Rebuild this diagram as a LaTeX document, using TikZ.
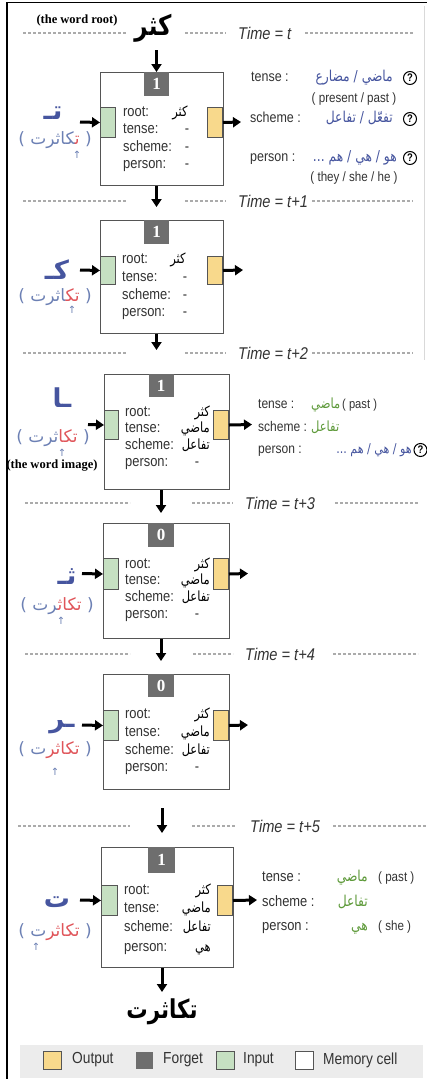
\documentclass[tikz,border=0pt]{standalone}
\usepackage{fontspec}
\usetikzlibrary{arrows.meta}
\setmainfont[FakeStretch=0.86]{Liberation Sans}
\newfontfamily\arabicfont[Script=Arabic]{DejaVu Sans}
\newfontfamily\arabicn[Script=Arabic, FakeStretch=0.82]{DejaVu Sans}
\newfontfamily\wordfont{Liberation Serif}
\newfontfamily\symfont{DejaVu Sans}
\TeXXeTstate=1
\definecolor{arblue}{HTML}{46559F}
\definecolor{lightblue}{HTML}{6C80B4}
\definecolor{arred}{HTML}{E0555A}
\definecolor{argreen}{HTML}{5E9A3A}
\definecolor{ingate}{HTML}{C6E0C2}
\definecolor{outgate}{HTML}{F8D98C}
\definecolor{fgate}{HTML}{6E6E6E}
\definecolor{txt}{HTML}{333333}
\definecolor{legbg}{HTML}{ECECEC}
\definecolor{dashc}{HTML}{ABABAB}
\definecolor{boxc}{HTML}{555555}
\def\zj{^^^^200d}
\newcommand\segB[1]{\textcolor{lightblue}{#1}}
\newcommand\segR[1]{\textcolor{arred}{#1}}
\newcommand\lp{{\symfont(}}
\newcommand\rp{{\symfont)}}
\tikzset{
  cellbox/.style={draw=boxc, line width=1.3pt, fill=white, anchor=north west, inner sep=0pt},
  ingatest/.style={draw=boxc, line width=1pt, fill=ingate, anchor=north west, inner sep=0pt, minimum width=15pt, minimum height=30pt},
  outgatest/.style={draw=boxc, line width=1pt, fill=outgate, anchor=north east, inner sep=0pt, minimum width=15pt, minimum height=30pt},
  fgatest/.style={fill=fgate, text=white, anchor=north, inner sep=0pt, minimum width=25pt, minimum height=24pt, font=\wordfont\bfseries\fontsize{17}{17}\selectfont},
  lbl/.style={anchor=west, inner sep=0pt, text height=10.5pt, text depth=3pt, font=\fontsize{15}{15}\selectfont, text=txt},
  val/.style={anchor=east, inner sep=0pt, text height=10.5pt, text depth=3pt, font=\arabicn\fontsize{14}{14}\selectfont, text=black},
  dashval/.style={inner sep=0pt, text height=10.5pt, text depth=3pt, font=\fontsize{15}{15}\selectfont, text=txt},
  rlbl/.style={anchor=west, inner sep=0pt, text height=10.5pt, text depth=3pt, font=\fontsize{14.5}{14.5}\selectfont, text=txt},
  rarab/.style={anchor=east, inner sep=0pt, text height=10.5pt, text depth=3pt, font=\arabicn\fontsize{15}{15}\selectfont, text=arblue},
  garab/.style={anchor=east, inner sep=0pt, text height=10.5pt, text depth=3pt, font=\arabicn\fontsize{15}{15}\selectfont, text=argreen},
  smalltxt/.style={inner sep=0pt, font=\fontsize{13.5}{13.5}\selectfont, text=txt},
  qmark/.style={circle, draw=black, line width=1pt, inner sep=0pt, minimum size=13pt, font=\bfseries\fontsize{11}{11}\selectfont},
  flow/.style={line width=3pt, -{Triangle[length=8pt,width=10pt]}},
  tline/.style={dashc, line width=1.2pt, dash pattern=on 3pt off 2pt},
  timelbl/.style={anchor=west, inner sep=0pt, font=\itshape\fontsize{17}{17}\selectfont, text=txt},
  bigl/.style={inner sep=0pt, font=\arabicfont\bfseries\fontsize{26}{26}\selectfont, text=arblue},
  wordl/.style={inner sep=0pt, font=\arabicfont\fontsize{17}{17}\selectfont, text=lightblue},
  uparr/.style={inner sep=0pt, font=\symfont\fontsize{10}{10}\selectfont, text=lightblue},
  note/.style={inner sep=0pt, font=\wordfont\bfseries\fontsize{12.5}{12.5}\selectfont, text=black},
  legsq/.style={inner sep=0pt, minimum size=18pt, draw=boxc, line width=1pt},
  legtxt/.style={anchor=west, inner sep=0pt, font=\fontsize{16}{16}\selectfont, text=txt},
  midlbl/.style={anchor=west, inner sep=0pt, text height=10.5pt, text depth=3pt, font=\fontsize{14}{14}\selectfont, text=txt},
}
\begin{document}
\begin{tikzpicture}[x=1pt,y=-1pt]
\useasboundingbox (0,0) rectangle (427,1079);
\fill[white] (0,0) rectangle (427,1079);
% frame
\draw[black, line width=1.3pt] (7,1079) -- (7,2.5) -- (427,2.5);
\draw[black!15, line width=1pt] (424.5,6) -- (424.5,360);

% ---------------- top: word root
\node (root) [note] at (77,20) {(the word root)};
\node (kthr) [inner sep=0pt, font=\arabicn\bfseries\fontsize{28}{28}\selectfont] at (153,28) {\beginR كثر\endR};
\draw[tline] (23,33) -- (127,33);
\draw[tline] (185,33) -- (226,33);
\node (tm0) [timelbl] at (238,33) {Time = t};
\draw[tline] (305,33) -- (413,33);

% ---------------- cell 1
\node (c1) [cellbox, minimum width=123pt, minimum height=113pt] at (100,72) {};
\node (c1f) [fgatest] at (156.5,72) {1};
\node (c1i) [ingatest] at (100,107) {};
\node (c1o) [outgatest] at (223,107) {};
\coordinate (d0) at (156.5,50);
\draw[flow] (d0) -- (d0 |- c1.north);
\node (c1r) [lbl] at (123,113) {root:};
\node (c1t) [lbl] at (123,130) {tense:};
\node (c1s) [lbl] at (123,148) {scheme:};
\node (c1p) [lbl] at (123,165) {person:};
\node (c1rv) [val, anchor=center] at (180,113) {\beginR كثر\endR};
\node (c1tv) [dashval] at (187,130) {-};
\node (c1sv) [dashval] at (187,148) {-};
\node (c1pv) [dashval] at (187,165) {-};
\node (l1) [bigl] at (53,113) {\beginR تـ\endR};
\node (w1) [wordl] at (55,140) {\lp\ \segB{\zj كاثرت}\segR{ت\zj}\ \rp};
\node (u1) [uparr] at (77,155) {↑};
\coordinate (a1) at (80,122);
\draw[flow] (a1) -- (c1i.west);
\coordinate (b1) at (241,122);
\draw[flow] (c1o.east) -- (b1);
\node (t1l) [rlbl] at (251,78) {tense :};
\node (t1v) [rarab] at (393,78) {\beginR ماضي / مضارع\endR};
\node (q1) [qmark] at (410,78) {?};
\node (t1e) [smalltxt] at (354,99) {( present / past )};
\node (s1l) [rlbl] at (250,119) {scheme :};
\node (s1v) [rarab] at (393,119) {\beginR تفعّل / تفاعل\endR};
\node (q2) [qmark] at (410,119) {?};
\node (p1l) [rlbl] at (250,158) {person :};
\node (p1v) [rarab] at (397,158) {\beginR هو / هي / هم ...\endR};
\node (q3) [qmark] at (410,158) {?};
\node (p1e) [smalltxt] at (354,178) {( they / she / he )};

% time t+1
\coordinate (d1) at (156.5,207);
\draw[flow] (c1.south -| d1) -- (d1);
\draw[tline] (23,201) -- (127,201);
\draw[tline] (185,201) -- (226,201);
\node (tm1) [timelbl] at (238,201) {Time = t+1};
\draw[tline] (312,201) -- (413,201);

% ---------------- cell 2
\node (c2) [cellbox, minimum width=123pt, minimum height=113pt] at (100,220) {};
\node (c2f) [fgatest] at (156.5,220) {1};
\node (c2i) [ingatest, minimum height=28pt] at (100,256) {};
\node (c2o) [outgatest, minimum height=28pt] at (223,256) {};
\node (c2r) [lbl] at (122,260) {root:};
\node (c2t) [lbl] at (122,278) {tense:};
\node (c2s) [lbl] at (122,296) {scheme:};
\node (c2p) [lbl] at (122,313) {person:};
\node (c2rv) [val, anchor=center] at (178,260) {\beginR كثر\endR};
\node (c2tv) [dashval] at (185,278) {-};
\node (c2sv) [dashval] at (185,296) {-};
\node (c2pv) [dashval] at (185,313) {-};
\node (l2) [bigl] at (57,270) {\beginR كـ\endR};
\node (w2) [wordl] at (55,297) {\lp\ \segB{\zj اثرت}\segR{تك\zj}\ \rp};
\node (u2) [uparr] at (72,310) {↑};
\coordinate (a2) at (80,270);
\draw[flow] (a2) -- (c2i.west);
\coordinate (b2) at (243,270);
\draw[flow] (c2o.east) -- (b2);

% time t+2
\coordinate (d2) at (156.5,350);
\draw[flow] (c2.south -| d2) -- (d2);
\draw[tline] (23,353) -- (127,353);
\draw[tline] (185,353) -- (226,353);
\node (tm2) [timelbl] at (238,353) {Time = t+2};
\draw[tline] (312,353) -- (413,353);

% ---------------- cell 3
\node (c3) [cellbox, minimum width=125pt, minimum height=115pt] at (104,374) {};
\node (c3f) [fgatest, minimum height=23pt] at (161,374) {1};
\node (c3i) [ingatest, minimum width=14pt, minimum height=29pt] at (104,410) {};
\node (c3o) [outgatest, minimum height=29pt] at (229,410) {};
\node (c3r) [lbl] at (125,413) {root:};
\node (c3t) [lbl] at (125,429) {tense:};
\node (c3s) [lbl] at (125,446) {scheme:};
\node (c3p) [lbl] at (125,463) {person:};
\node (c3rv) [val] at (210,413) {\beginR كثر\endR};
\node (c3tv) [val] at (210,429) {\beginR ماضي\endR};
\node (c3sv) [val] at (210,446) {\beginR تفاعل\endR};
\node (c3pv) [dashval] at (197,463) {-};
\node (l3) [bigl] at (62,398) {\beginR ـا\endR};
\node (w3) [wordl] at (53,438) {\lp\ \segB{ثرت}\segR{تكا}\ \rp};
\node (u3) [uparr] at (62,453) {↑};
\node (img) [note] at (52,466) {(the word image)};
\coordinate (a3) at (88,424.5);
\draw[flow] (a3) -- (c3i.west);
\coordinate (b3) at (252,424.5);
\draw[flow] (c3o.east) -- (b3);
\node (t3l) [midlbl] at (258,405) {tense :};
\node (t3v) [garab, anchor=west, font=\arabicn\fontsize{14}{14}\selectfont] at (311,405) {\beginR ماضي\endR};
\node (t3e) [smalltxt, anchor=west, font=\fontsize{13}{13}\selectfont] at (342,405) {( past )};
\node (s3l) [midlbl] at (258,428) {scheme :};
\node (s3v) [garab, anchor=west, font=\arabicn\fontsize{14}{14}\selectfont] at (311,428) {\beginR تفاعل\endR};
\node (p3l) [midlbl] at (258,450) {person :};
\node (p3v) [rarab, font=\arabicn\fontsize{13.5}{13.5}\selectfont] at (412,450) {\beginR هو / هي / هم ...\endR};
\node (q4) [qmark] at (420.5,450) {?};

% time t+3
\coordinate (d3) at (161,513);
\draw[flow] (c3.south -| d3) -- (d3);
\draw[tline] (25,503) -- (130,503);
\draw[tline] (192,503) -- (233,503);
\node (tm3) [timelbl] at (245,503) {Time = t+3};
\draw[tline] (335,503) -- (418,503);

% ---------------- cell 4
\node (c4) [cellbox, minimum width=126pt, minimum height=115pt] at (103,523) {};
\node (c4f) [fgatest, minimum width=26pt] at (161,523) {0};
\node (c4i) [ingatest, minimum height=31pt] at (103,558) {};
\node (c4o) [outgatest, minimum height=31pt] at (229,558) {};
\node (c4r) [lbl] at (125,565) {root:};
\node (c4t) [lbl] at (125,581) {tense:};
\node (c4s) [lbl] at (125,598) {scheme:};
\node (c4p) [lbl] at (125,615) {person:};
\node (c4rv) [val] at (210,565) {\beginR كثر\endR};
\node (c4tv) [val] at (210,581) {\beginR ماضي\endR};
\node (c4sv) [val] at (210,598) {\beginR تفاعل\endR};
\node (c4pv) [dashval] at (197,615) {-};
\node (l4) [bigl] at (67,577) {\beginR ثـ\endR};
\node (w4) [wordl] at (57,606) {\lp\ \segB{\zj رت}\segR{تكاث\zj}\ \rp};
\node (u4) [uparr] at (61,621) {↑};
\coordinate (a4) at (82,573.5);
\draw[flow] (a4) -- (c4i.west);
\coordinate (b4) at (248,573.5);
\draw[flow] (c4o.east) -- (b4);

% time t+4
\coordinate (d4) at (161,661);
\draw[flow] (c4.south -| d4) -- (d4);
\draw[tline] (25,654) -- (130,654);
\draw[tline] (193,654) -- (233,654);
\node (tm4) [timelbl] at (245,654) {Time = t+4};
\draw[tline] (333,654) -- (418,654);

% ---------------- cell 5
\node (c5) [cellbox, minimum width=126pt, minimum height=115pt] at (103,674) {};
\node (c5f) [fgatest, minimum width=26pt, minimum height=23pt] at (161,674) {0};
\node (c5i) [ingatest] at (103,710) {};
\node (c5o) [outgatest] at (229,710) {};
\node (c5r) [lbl] at (125,715) {root:};
\node (c5t) [lbl] at (125,733) {tense:};
\node (c5s) [lbl] at (125,751) {scheme:};
\node (c5p) [lbl] at (125,768) {person:};
\node (c5rv) [val] at (210,715) {\beginR كثر\endR};
\node (c5tv) [val] at (210,733) {\beginR ماضي\endR};
\node (c5sv) [val] at (210,751) {\beginR تفاعل\endR};
\node (c5pv) [dashval] at (197,768) {-};
\node (l5) [bigl] at (62,727) {\beginR ـر\endR};
\node (w5) [wordl] at (55,750) {\lp\ \segB{ت}\segR{تكاثر}\ \rp};
\node (u5) [uparr] at (55,772) {↑};
\coordinate (a5) at (82,725);
\draw[flow] (a5) -- (c5i.west);
\coordinate (b5) at (248,725);
\draw[flow] (c5o.east) -- (b5);

% time t+5
\coordinate (d5s) at (162,808);
\coordinate (d5) at (162,833);
\draw[flow] (d5s) -- (d5);
\draw[tline] (18,826) -- (130,826);
\draw[tline] (192,826) -- (235,826);
\node (tm5) [timelbl] at (250,826) {Time = t+5};
\draw[tline] (333,826) -- (427,826);

% ---------------- cell 6
\node (c6) [cellbox, minimum width=132pt, minimum height=120pt] at (101,847) {};
\node (c6f) [fgatest, minimum width=27pt, minimum height=26pt] at (161.5,847) {1};
\node (c6i) [ingatest, minimum width=16pt] at (101,885) {};
\node (c6o) [outgatest] at (233,885) {};
\node (c6r) [lbl] at (124,891) {root:};
\node (c6t) [lbl] at (124,909) {tense:};
\node (c6s) [lbl] at (124,928) {scheme:};
\node (c6p) [lbl] at (124,948) {person:};
\node (c6rv) [val] at (211,891) {\beginR كثر\endR};
\node (c6tv) [val] at (211,909) {\beginR ماضي\endR};
\node (c6sv) [val] at (211,928) {\beginR تفاعل\endR};
\node (c6pv) [val] at (211,948) {\beginR هي\endR};
\node (l6) [bigl] at (57,902) {\beginR ت\endR};
\node (w6) [wordl] at (55,932) {\lp\ \segB{ت}\segR{تكاثر}\ \rp};
\node (u6) [uparr] at (36,947) {↑};
\coordinate (a6) at (80,900);
\draw[flow] (a6) -- (c6i.west);
\coordinate (b6) at (257,900);
\draw[flow] (c6o.east) -- (b6);
\node (t6l) [rlbl, font=\fontsize{15}{15}\selectfont] at (262,878) {tense :};
\node (t6v) [garab] at (368,878) {\beginR ماضي\endR};
\node (t6e) [smalltxt, anchor=west] at (378,878) {( past )};
\node (s6l) [rlbl, font=\fontsize{15}{15}\selectfont] at (262,903) {scheme :};
\node (s6v) [garab] at (368,903) {\beginR تفاعل\endR};
\node (p6l) [rlbl, font=\fontsize{15}{15}\selectfont] at (262,927) {person :};
\node (p6v) [garab] at (368,927) {\beginR هي\endR};
\node (p6e) [smalltxt, anchor=west] at (378,927) {( she )};

% output word
\coordinate (d6) at (162,992);
\draw[flow] (c6.south -| d6) -- (d6);
\node (outw) [inner sep=0pt, font=\arabicn\bfseries\fontsize{26}{26}\selectfont] at (162,1012) {\beginR تكاثرت\endR};

% ---------------- legend
\node (leg) [fill=legbg, anchor=north west, inner sep=0pt, minimum width=403pt, minimum height=33pt] at (20,1045) {};
\node (lo) [legsq, fill=outgate] at (52.5,1060) {};
\node (lot) [legtxt] at (72,1060) {Output};
\node (lf) [legsq, fill=fgate, draw=none, minimum size=17pt] at (144.5,1060) {};
\node (lft) [legtxt] at (163,1060) {Forget};
\node (li) [legsq, fill=ingate] at (225,1060) {};
\node (lit) [legtxt] at (243,1060) {Input};
\node (lm) [legsq, fill=white] at (304,1060) {};
\node (lmt) [legtxt] at (323,1060) {Memory cell};
\end{tikzpicture}
\end{document}
